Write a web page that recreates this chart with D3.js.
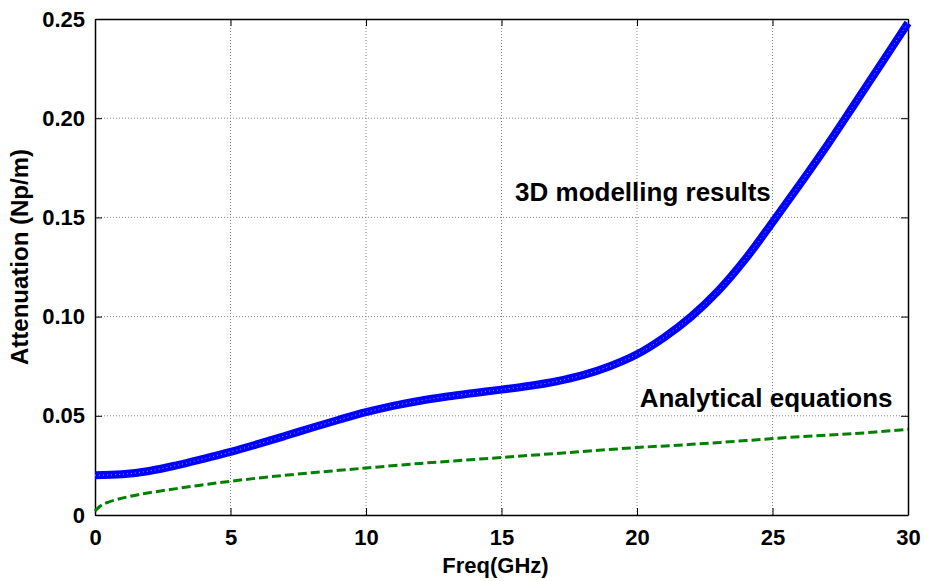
<!DOCTYPE html>
<html>
<head>
<meta charset="utf-8">
<script src="https://cdn.jsdelivr.net/npm/d3@7"></script>
<style>
  body { margin: 0; background: #fff; }
  text { font-family: "Liberation Sans", Arial, sans-serif; font-weight: bold; }
</style>
</head>
<body>
<div class="chart"></div>
<script>
// 3D modelling results (blue band)
var modelFreq = [0,1,2,3,4,5,6,7,8,9,10,11,12,13,14,15,16,17,18,19,20,21,22,23,24,25,26,27,28,29,30];
var modelAtt = [0.0200,0.0205,0.0222,0.0250,0.0283,0.0318,0.0357,0.0398,0.0440,0.0480,0.0518,0.0550,0.0576,0.0597,0.0615,0.0632,0.0650,0.0673,0.0705,0.0750,0.0810,0.0895,0.1000,0.1130,0.1290,0.1475,0.1665,0.1860,0.2065,0.2272,0.2480];

// analytical equations (green dashed)
var eqFreq = [0,0.25,0.5,1,1.5,2,3,4,5,6,7,8,9,10,12,14,16,18,20,22,24,26,28,30];
var eqAtt = [0.0020,0.0050,0.0065,0.0085,0.0100,0.0112,0.0133,0.0152,0.0170,0.0186,0.0200,0.0213,0.0225,0.0237,0.0260,0.0280,0.0300,0.0320,0.0340,0.0356,0.0375,0.0395,0.0410,0.0432];

var xTicks = [0,5,10,15,20,25,30];
var yTicks = [0,0.05,0.10,0.15,0.20,0.25];
var yTickLabels = ['0','0.05','0.10','0.15','0.20','0.25'];

var margin = { top: 19, right: 17, bottom: 66, left: 95 };
var width = 925 - margin.left - margin.right;
var height = 581 - margin.top - margin.bottom;

var svg = d3.select('.chart')
  .append('svg')
  .attr('width', 925)
  .attr('height', 581)
  .append('g')
  .attr('transform', 'translate(' + margin.left + ',' + margin.top + ')');

var xScale = d3.scaleLinear().domain([0, 30]).range([0, width]);
var yScale = d3.scaleLinear().domain([0, 0.25]).range([height, 0]);

// grid
svg.selectAll('.vgrid')
  .data(xTicks.slice(1, -1))
  .enter()
  .append('line')
  .attr('x1', d => xScale(d)).attr('x2', d => xScale(d))
  .attr('y1', 0).attr('y2', height)
  .style('stroke', '#888')
  .style('stroke-width', 1)
  .style('stroke-dasharray', '1,2');

svg.selectAll('.hgrid')
  .data(yTicks.slice(1, -1))
  .enter()
  .append('line')
  .attr('y1', d => yScale(d)).attr('y2', d => yScale(d))
  .attr('x1', 0).attr('x2', width)
  .style('stroke', '#888')
  .style('stroke-width', 1)
  .style('stroke-dasharray', '1,2');

// axes, ticks inward like matlab
svg.append('g')
  .attr('transform', `translate(0, ${height})`)
  .call(d3.axisBottom(xScale).tickValues(xTicks).tickSizeInner(-7).tickSizeOuter(0).tickPadding(14));
svg.append('g')
  .call(d3.axisLeft(yScale).tickValues(yTicks).tickFormat((d, i) => yTickLabels[i]).tickSizeInner(-7).tickSizeOuter(0).tickPadding(10));
svg.append('g')
  .call(d3.axisTop(xScale).tickValues(xTicks).tickFormat('').tickSizeInner(-7).tickSizeOuter(0));
svg.append('g')
  .attr('transform', `translate(${width}, 0)`)
  .call(d3.axisRight(yScale).tickValues(yTicks).tickFormat('').tickSizeInner(-7).tickSizeOuter(0));

svg.selectAll('.domain').style('stroke', '#000').style('stroke-width', 1.5);
svg.selectAll('.tick line').style('stroke', '#000');
svg.selectAll('.tick text')
  .style('font-size', '22px')
  .style('font-weight', 'bold')
  .style('fill', '#000');

// lines
var line = d3.line()
  .x(d => xScale(d[0]))
  .y(d => yScale(d[1]))
  .curve(d3.curveCatmullRom.alpha(0.5));

var eqData = eqFreq.map((f, i) => [f, eqAtt[i]]);
var modelData = modelFreq.map((f, i) => [f, modelAtt[i]]);

svg.append('path')
  .attr('d', line(eqData))
  .style('fill', 'none')
  .style('stroke', '#008000')
  .style('stroke-width', 3)
  .style('stroke-dasharray', '9,4');

svg.append('path')
  .attr('d', line(modelData))
  .style('fill', 'none')
  .style('stroke', '#0000ff')
  .style('stroke-width', 8)
  .style('stroke-linecap', 'butt');

// star marker texture
svg.append('path')
  .attr('d', line(modelData))
  .style('fill', 'none')
  .style('stroke', '#9a9aff')
  .style('stroke-width', 1)
  .style('stroke-dasharray', '1,3');

// annotations
svg.append('text')
  .attr('x', xScale(15.5))
  .attr('y', yScale(0.1585))
  .style('font-size', '26px')
  .text('3D modelling results');

svg.append('text')
  .attr('x', xScale(20.1))
  .attr('y', yScale(0.0545))
  .style('font-size', '26px')
  .text('Analytical equations');

// axis labels
svg.append('text')
  .attr('x', width / 2 - 6)
  .attr('y', height + 58)
  .style('text-anchor', 'middle')
  .style('font-size', '22px')
  .text('Freq(GHz)');

svg.append('text')
  .attr('transform', 'rotate(-90)')
  .attr('x', -(257 - margin.top))
  .attr('y', -67)
  .style('text-anchor', 'middle')
  .style('font-size', '24px')
  .text('Attenuation (Np/m)');
</script>
</body>
</html>
